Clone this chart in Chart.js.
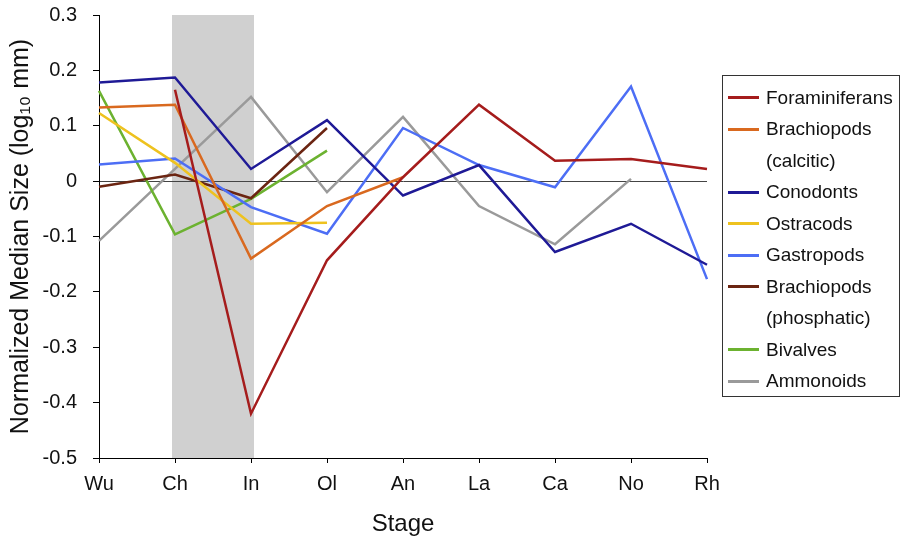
<!DOCTYPE html>
<html>
<head>
<meta charset="utf-8">
<script src="https://cdn.jsdelivr.net/npm/chart.js@4.4.1/dist/chart.umd.min.js"></script>
<style>
  body { margin: 0; background: #fff; }
  #wrap { position: relative; width: 904px; height: 540px; }
  #legend {
    position: absolute; left: 722px; top: 75px; width: 178px; height: 322px;
    border: 1px solid #333; box-sizing: border-box; padding-top: 6px;
    font-family: "Liberation Sans", Arial, sans-serif; font-size: 19px; color: #111;
  }
  .row { display: flex; align-items: center; height: 31.5px; white-space: nowrap; }
  .swatch { width: 31px; height: 3px; margin-left: 5px; margin-right: 7px; }
  .cont { padding-left: 43px; }
</style>
</head>
<body>
<div id="wrap">
  <canvas id="myChart" width="904" height="540"></canvas>
  <div id="legend"></div>
</div>
<script>
const stages = ["Wu", "Ch", "In", "Ol", "An", "La", "Ca", "No", "Rh"];

const foraminiferans = [null, 0.165, -0.42, -0.143, 0.007, 0.138, 0.037, 0.04, 0.022];
const brachiopodsCalcitic = [0.133, 0.138, -0.14, -0.045, 0.007, null, null, null, null];
const conodonts = [0.178, 0.187, 0.022, 0.11, -0.026, 0.029, -0.128, -0.077, -0.151];
const ostracods = [0.123, 0.033, -0.077, -0.075, null, null, null, null, null];
const gastropods = [0.03, 0.041, -0.047, -0.095, 0.096, 0.029, -0.011, 0.171, -0.177];
const brachiopodsPhosphatic = [-0.01, 0.012, -0.031, 0.096, null, null, null, null, null];
const bivalves = [0.163, -0.096, -0.032, 0.055, null, null, null, null, null];
const ammonoids = [-0.108, null, 0.152, -0.02, 0.116, -0.045, -0.114, 0.004, null];

const seriesNames = [
  ["Foraminiferans"], ["Brachiopods", "(calcitic)"], ["Conodonts"], ["Ostracods"],
  ["Gastropods"], ["Brachiopods", "(phosphatic)"], ["Bivalves"], ["Ammonoids"]
];
const seriesColors = ["#a51c1c", "#d9691f", "#1f1a96", "#eec21f", "#4d6ef5", "#6b2512", "#6cb230", "#9a9a9a"];
const seriesData = [foraminiferans, brachiopodsCalcitic, conodonts, ostracods,
  gastropods, brachiopodsPhosphatic, bivalves, ammonoids];

const yTicks = [0.3, 0.2, 0.1, 0, -0.1, -0.2, -0.3, -0.4, -0.5];
const shadedFrom = "Ch";
const shadedTo = "In";

const FONT = "'Liberation Sans', Arial, sans-serif";

// grey band behind everything (drawn before the scales so the zero line sits on top)
const bandPlugin = {
  id: "band",
  beforeDraw(chart) {
    const x = chart.scales.x;
    const area = chart.chartArea;
    const c = chart.ctx;
    const x1 = x.getPixelForValue(stages.indexOf(shadedFrom)) - 3;
    const x2 = x.getPixelForValue(stages.indexOf(shadedTo)) + 3;
    c.save();
    c.fillStyle = "#d0d0d0";
    c.fillRect(x1, area.top, x2 - x1, area.bottom - area.top);
    c.restore();
  }
};

const ctx = document.getElementById("myChart");
new Chart(ctx, {
  type: "line",
  data: {
    labels: stages,
    datasets: seriesData.map(function (d, i) {
      return {
        label: seriesNames[i].join(" "),
        data: d,
        borderColor: seriesColors[i],
        backgroundColor: seriesColors[i],
        borderWidth: 2.5,
        pointRadius: 0,
        tension: 0,
        spanGaps: true
      };
    })
  },
  options: {
    responsive: false,
    animation: false,
    layout: { padding: { top: 15, right: 197, bottom: 0, left: 4 } },
    plugins: { legend: { display: false }, tooltip: { enabled: false } },
    scales: {
      x: {
        offset: false,
        border: { color: "#000", width: 1 },
        grid: { drawOnChartArea: false, color: "#000", tickLength: 5 },
        ticks: { color: "#111", font: { family: FONT, size: 20 }, padding: 9, maxRotation: 0 },
        title: { display: true, text: "Stage", color: "#111", font: { family: FONT, size: 24 }, padding: { top: 7, bottom: 1 } },
        afterFit: function (axis) {
          axis.height = 82;
          axis.paddingLeft = 0;
          axis.paddingRight = 0;
        }
      },
      y: {
        min: -0.5,
        max: 0.3,
        border: { color: "#000", width: 1 },
        grid: {
          color: function (c) { return Math.abs(c.tick.value) < 1e-9 ? "#444" : "transparent"; },
          tickColor: "#000",
          tickLength: 6
        },
        afterBuildTicks: function (axis) {
          axis.ticks = yTicks.map(function (v) { return { value: v }; });
        },
        afterFit: function (axis) {
          axis.width = 95;
          axis.paddingTop = 0;
          axis.paddingBottom = 0;
        },
        ticks: {
          color: "#111",
          font: { family: FONT, size: 20 },
          padding: 16,
          callback: function (v) { return String(Math.round(v * 10) / 10); }
        },
        title: { display: true, text: "Normalized Median Size (log₁₀ mm)", color: "#111", font: { family: FONT, size: 25 }, padding: { top: 2, bottom: 2 } }
      }
    }
  },
  plugins: [bandPlugin]
});

// legend as html so the two-line names wrap like the original
const legend = document.getElementById("legend");
seriesNames.forEach(function (lines, i) {
  lines.forEach(function (t, j) {
    const row = document.createElement("div");
    row.className = "row" + (j > 0 ? " cont" : "");
    if (j === 0) {
      const sw = document.createElement("span");
      sw.className = "swatch";
      sw.style.background = seriesColors[i];
      row.appendChild(sw);
    }
    const s = document.createElement("span");
    s.textContent = t;
    row.appendChild(s);
    legend.appendChild(row);
  });
});
</script>
</body>
</html>
